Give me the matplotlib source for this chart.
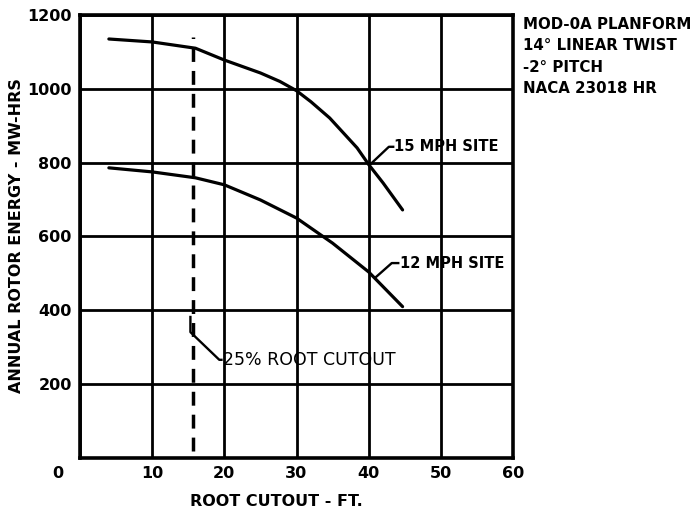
import matplotlib
matplotlib.use('Agg')
import matplotlib.pyplot as plt
from matplotlib.transforms import ScaledTranslation

# values
cutout_15 = [4, 10, 16, 20, 25, 27.7, 30, 32, 34.6, 38.4, 40, 42, 44.7]
energy_15 = [1135, 1127, 1110, 1078, 1043, 1020, 995, 965, 921, 840, 795, 745, 672]
cutout_12 = [4, 10, 16, 20, 25, 30, 35, 40, 44.7]
energy_12 = [786, 775, 759, 740, 699, 650, 582, 504, 410]
root_cutout_25 = 15.6
xticks = [0, 10, 20, 30, 40, 50, 60]
yticks = [0, 200, 400, 600, 800, 1000, 1200]
ytick_labels = ['', '200', '400', '600', '800', '1000', '1200']
notes = ["MOD-0A PLANFORM", "14\u00b0 LINEAR TWIST", "-2\u00b0 PITCH", "NACA 23018 HR"]

plt.rcParams['font.family'] = 'DejaVu Sans'
plt.rcParams['font.weight'] = 'bold'

fig = plt.figure(figsize=(6.99, 5.14), dpi=100)
ax = fig.add_axes([80 / 699, 56 / 514, 433 / 699, 443 / 514])

ax.set_xlim(0, 60)
ax.set_ylim(0, 1200)
ax.set_xticks(xticks)
ax.set_yticks(yticks)
ax.set_yticklabels(ytick_labels)
ax.tick_params(length=0, labelsize=11.5, pad=6)
for lbl in ax.get_xticklabels() + ax.get_yticklabels():
    lbl.set_fontweight('bold')
# the "0" sits well left of the axis in the original
zero = ax.get_xticklabels()[0]
zero.set_transform(zero.get_transform() + ScaledTranslation(-0.22, 0, fig.dpi_scale_trans))

ax.grid(True, color='black', linewidth=2.0)
for s in ax.spines.values():
    s.set_linewidth(2.6)

ax.plot(cutout_15, energy_15, color='black', linewidth=2.3, solid_capstyle='round',
        solid_joinstyle='round', zorder=3)
ax.plot(cutout_12, energy_12, color='black', linewidth=2.3, solid_capstyle='round',
        solid_joinstyle='round', zorder=3)

dash, = ax.plot([root_cutout_25, root_cutout_25], [20, 1140], color='black', linewidth=2.5, zorder=3)
dash.set_dashes([4, 2.6])

# leader lines + labels
ax.plot([15.3, 15.3, 19.3, 19.6], [382, 341, 266, 266], color='black', linewidth=1.7, zorder=3)
ax.text(19.8, 266, "25% ROOT CUTOUT", fontsize=12.5, fontweight='normal', va='center', ha='left')

ax.plot([40.2, 42.8, 43.4], [795, 843, 843], color='black', linewidth=1.7, zorder=3)
ax.text(43.5, 843, "15 MPH SITE", fontsize=10.5, va='center', ha='left', clip_on=False)

ax.plot([41.0, 43.2, 44.1], [490, 528, 528], color='black', linewidth=1.7, zorder=3)
ax.text(44.3, 528, "12 MPH SITE", fontsize=10.5, va='center', ha='left')

for i, line in enumerate(notes):
    fig.text(523 / 699, 1 - (24 + i * 21.5) / 514, line, fontsize=10.8, fontweight='bold', va='center', ha='left')

fig.text(276 / 699, 1 - 502 / 514, "ROOT CUTOUT - FT.", fontsize=11.5, fontweight='bold', ha='center', va='center')
fig.text(17 / 699, 1 - 236 / 514, "ANNUAL ROTOR ENERGY - MW-HRS", fontsize=11.5, fontweight='bold',
         rotation=90, ha='center', va='center')

fig.savefig('out.png', dpi=100)
